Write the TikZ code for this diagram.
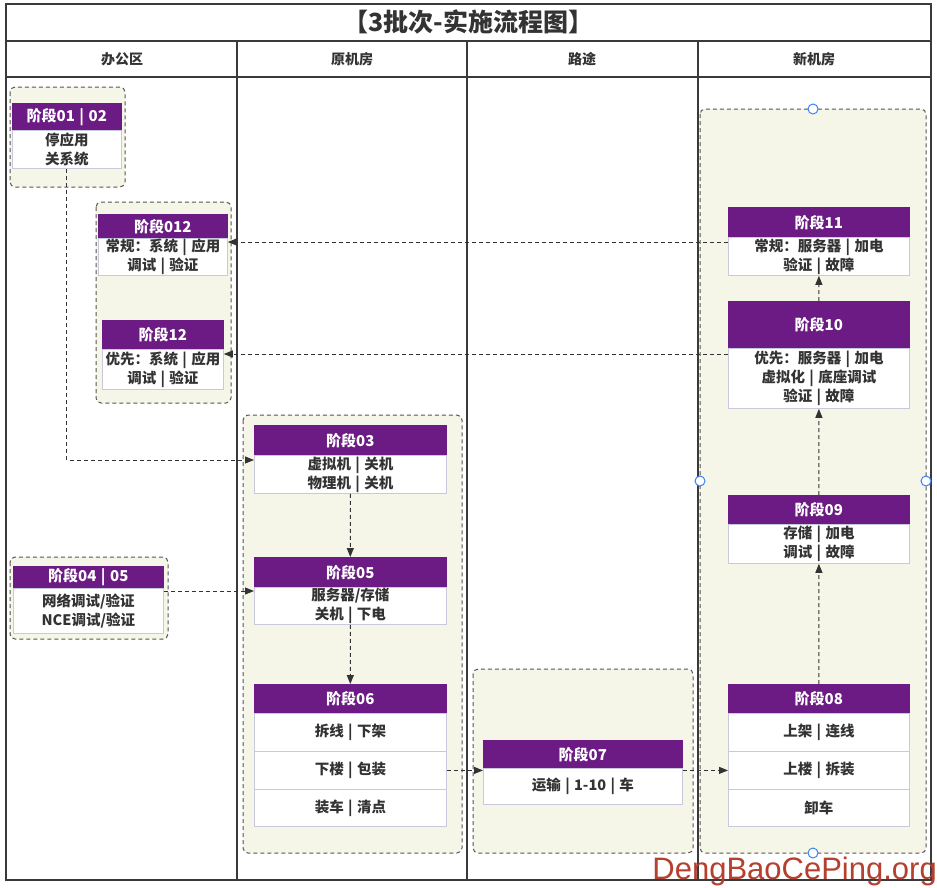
\documentclass[tikz,border=0pt]{standalone}
\usepackage{fontspec}
\setmainfont{Noto Sans CJK SC}
\newfontfamily\wmfont{Liberation Sans}
\usetikzlibrary{arrows.meta}
\definecolor{hdrc}{HTML}{6B1B83}
\definecolor{bordc}{HTML}{C9C9DE}
\definecolor{txtc}{HTML}{333333}
\definecolor{grpf}{HTML}{F6F6E8}
\definecolor{grpc}{HTML}{555555}
\definecolor{connc}{HTML}{333333}
\definecolor{framec}{HTML}{3A3A3A}
\definecolor{handc}{HTML}{3B82F6}
\definecolor{wmc}{HTML}{B5402F}
\newcommand\stghead[6]{\node[hdr, minimum width={#4pt-#2pt}, minimum height={#5pt-#3pt}] (#1) at (#2,#3) {#6};}
\newcommand\stgbody[6]{\node[bodyb, minimum width={#4pt-#2pt}, minimum height={#5pt-#3pt}] (#1) at (#2,#3) {#6};}
\newcommand\grpbox[4]{\path[grp] (#1,#2) rectangle (#3,#4);}
\newcommand\vb{\hspace{0.3em}|\hspace{0.3em}}
\begin{document}
\begin{tikzpicture}[x=1pt,y=-1pt,
  hdr/.style={fill=hdrc, draw=hdrc, line width=0.6pt, text=white, font=\bfseries\fontsize{15}{17}\selectfont, inner sep=0pt, anchor=north west},
  bodyb/.style={fill=white, draw=bordc, line width=0.8pt, text=txtc, font=\bfseries\fontsize{14.5}{19}\selectfont, align=center, inner sep=0pt, anchor=north west},
  grp/.style={draw=grpc, fill=grpf, dash pattern=on 4pt off 3pt, rounded corners=5pt, line width=1pt},
  conn/.style={draw=connc, dash pattern=on 4pt off 3pt, line width=1pt, -{Triangle[length=9pt,width=7pt]}},
  lane/.style={draw=framec, line width=2.2pt},
  frame/.style={draw=framec, line width=1.4pt},
  handle/.style={circle, draw=handc, fill=white, line width=1pt, minimum size=10pt, inner sep=0pt},
  lanetxt/.style={text=txtc, font=\bfseries\fontsize{14}{16}\selectfont}
]
\useasboundingbox (0,0) rectangle (937,887);
\fill[white] (0,0) rectangle (937,887);
% frame
\draw[frame] (6,4) rectangle (931,880);
\draw[frame] (6,41) -- (931,41);
\draw[frame] (6,77) -- (931,77);
\draw[lane] (237,41) -- (237,880);
\draw[lane] (467,41) -- (467,880);
\draw[lane] (698,41) -- (698,880);
\node[text=txtc, font=\bfseries\fontsize{25}{28}\selectfont] (title) at (468.5,22) {【3批次-实施流程图】};
\node[lanetxt] (l1) at (122,59) {办公区};
\node[lanetxt] (l2) at (352,59) {原机房};
\node[lanetxt] (l3) at (582,59) {路途};
\node[lanetxt] (l4) at (814,59) {新机房};
% groups
\grpbox{10}{87}{125}{187}
\grpbox{96}{202}{231}{403}
\grpbox{243}{415}{462}{853}
\grpbox{10}{557}{168}{639}
\grpbox{473}{669}{693}{853}
\grpbox{700}{109}{926}{853}
% stages
\stghead{h0102}{12}{103}{121}{130}{阶段01\vb 02}
\stgbody{b0102}{12}{130}{121}{168}{停应用\\关系统}
\stghead{h012}{98}{214}{227}{238}{阶段012}
\stgbody{b012}{98}{238}{227}{275}{常规：系统\vb 应用\\调试\vb 验证}
\stghead{h12}{102}{320}{223}{349}{阶段12}
\stgbody{b12}{102}{349}{223}{389}{优先：系统\vb 应用\\调试\vb 验证}
\stghead{h0405}{13}{566}{163}{588}{阶段04\vb 05}
\stgbody{b0405}{13}{588}{163}{633}{网络调试/验证\\NCE调试/验证}
\stghead{h03}{254}{425}{446}{455}{阶段03}
\stgbody{b03}{254}{455}{446}{493}{虚拟机\vb 关机\\物理机\vb 关机}
\stghead{h05}{254}{557}{446}{587}{阶段05}
\stgbody{b05}{254}{587}{446}{624}{服务器/存储\\关机\vb 下电}
\stghead{h06}{254}{684}{446}{713}{阶段06}
\stgbody{b06a}{254}{713}{446}{751}{拆线\vb 下架}
\stgbody{b06b}{254}{751}{446}{789}{下楼\vb 包装}
\stgbody{b06c}{254}{789}{446}{826}{装车\vb 清点}
\stghead{h07}{483}{740}{682}{768}{阶段07}
\stgbody{b07}{483}{768}{682}{804}{运输\vb 1-10\vb 车}
\stghead{h08}{728}{684}{909}{713}{阶段08}
\stgbody{b08a}{728}{713}{909}{751}{上架\vb 连线}
\stgbody{b08b}{728}{751}{909}{789}{上楼\vb 拆装}
\stgbody{b08c}{728}{789}{909}{826}{卸车}
\stghead{h09}{728}{495}{909}{524}{阶段09}
\stgbody{b09}{728}{524}{909}{563}{存储\vb 加电\\调试\vb 故障}
\stghead{h10}{728}{301}{909}{348}{阶段10}
\stgbody{b10}{728}{348}{909}{408}{优先：服务器\vb 加电\\虚拟化\vb 底座调试\\验证\vb 故障}
\stghead{h11}{728}{207}{909}{237}{阶段11}
\stgbody{b11}{728}{237}{909}{275}{常规：服务器\vb 加电\\验证\vb 故障}
% connectors
\coordinate (c03in) at ([yshift=-5pt]b03.north west);
\draw[conn] (b0102.south) |- (c03in);
\coordinate (c05in) at ([yshift=-4pt]b05.north west);
\draw[conn] (c05in -| b0405.east) -- (c05in);
\draw[conn] (b03.south) -- (h05.north);
\draw[conn] (b05.south) -- (h06.north);
\draw[conn] (b06b.east) -- (b06b.east -| b07.west);
\draw[conn] (b08b.west -| b07.east) -- (b08b.west);
\draw[conn] (h08.north) -- (b09.south);
\draw[conn] (h09.north) -- (b10.south);
\draw[conn] (h10.north) -- (b11.south);
\coordinate (c11out) at ([yshift=-5pt]b11.north west);
\draw[conn] (c11out) -- (c11out -| b012.east);
\coordinate (c10out) at ([yshift=-6pt]b10.north west);
\draw[conn] (c10out) -- (c10out -| b12.east);
% selection handles
\node[handle] (hs1) at (813,109) {};
\node[handle] (hs2) at (700,481) {};
\node[handle] (hs3) at (926,481) {};
\node[handle] (hs4) at (813,853) {};
% watermark
\node[anchor=base east, inner sep=0pt, text=wmc, font=\wmfont\fontsize{31}{33}\selectfont] (wm) at (937,879) {DengBaoCePing.org};
\end{tikzpicture}
\end{document}
